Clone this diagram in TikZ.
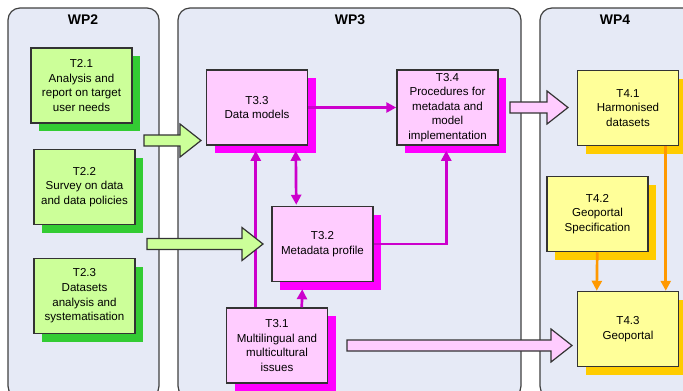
\documentclass[tikz,border=0pt]{standalone}
\usepackage{fontspec}
\setmainfont{Liberation Sans}
\usetikzlibrary{shadows,calc,arrows.meta}
\definecolor{panelbg}{RGB}{230,234,246}
\definecolor{panelline}{RGB}{64,64,64}
\definecolor{boxline}{RGB}{51,51,51}
\definecolor{gfill}{RGB}{204,255,153}
\definecolor{gshadow}{RGB}{51,204,51}
\definecolor{pfill}{RGB}{255,204,255}
\definecolor{pshadow}{RGB}{255,0,255}
\definecolor{mline}{RGB}{204,0,204}
\definecolor{yfill}{RGB}{255,255,153}
\definecolor{yshadow}{RGB}{255,204,0}
\definecolor{oline}{RGB}{255,153,0}
\newcommand\blockarrow[3]{%
  \draw[draw=boxline, line width=1.2bp, fill=#1]
    ($(#2)+(0,-5.5)$) -- ($(#3)+(-21,-5.5)$) -- ($(#3)+(-21,-16.5)$) -- (#3)
    -- ($(#3)+(-21,16.5)$) -- ($(#3)+(-21,5.5)$) -- ($(#2)+(0,5.5)$) -- cycle;}
\begin{document}
\begin{tikzpicture}[x=1bp,y=-1bp,
  panel/.style={draw=panelline, fill=panelbg, line width=1.2bp, rounded corners=12bp},
  ptitle/.style={font=\fontsize{14}{16}\selectfont\bfseries, inner sep=0pt},
  task/.style={draw=boxline, line width=1.5bp, minimum width=101bp, minimum height=75bp,
    inner sep=0pt, align=center, font=\fontsize{11.6}{14.7}\selectfont},
  greentask/.style={task, fill=gfill, general shadow={fill=gshadow, shadow xshift=8bp, shadow yshift=-8bp}},
  pinktask/.style={task, fill=pfill, general shadow={fill=pshadow, shadow xshift=8bp, shadow yshift=-8bp}},
  yellowtask/.style={task, fill=yfill, general shadow={fill=yshadow, shadow xshift=8bp, shadow yshift=-8bp}},
  magline/.style={draw=mline, line width=2.7bp},
  magarr/.style={magline, -{Triangle[length=10bp,width=10bp]}},
  magdarr/.style={magline, {Triangle[length=10bp,width=10bp]}-{Triangle[length=10bp,width=10bp]}},
  orarr/.style={draw=oline, line width=2.7bp, -{Triangle[length=10bp,width=10bp]}}
]
\useasboundingbox (0,0) rectangle (683,390);
\begin{scope}
  \clip (0,0) rectangle (683,390);
  \draw[panel] (8,8) rectangle (159,398);
  \draw[panel] (178,8) rectangle (521,398);
  \draw[panel] (540,8) rectangle (720,398);
\end{scope}
\node[ptitle] (wp2) at (83,20) {WP2};
\node[ptitle] (wp3) at (350,20) {WP3};
\node[ptitle] (wp4) at (615,20) {WP4};

% WP2
\node[greentask] (T21) at (81.5,85.5) {T2.1\\Analysis and\\report on target\\user needs};
\node[greentask] (T22) at (84.5,187) {T2.2\\Survey on data\\and data policies};
\node[greentask] (T23) at (84.5,296) {T2.3\\Datasets\\analysis and\\systematisation};

% WP3
\node[pinktask] (T33) at (257,107.5) {T3.3\\Data models};
\node[pinktask] (T34) at (447.5,107.5) {T3.4\\Procedures for\\metadata and\\model\\implementation};
\node[pinktask] (T32) at (322.5,244) {T3.2\\Metadata profile};
\node[pinktask] (T31) at (277,345.5) {T3.1\\Multilingual and\\multicultural\\issues};

% WP4
\node[yellowtask] (T41) at (628,108) {T4.1\\Harmonised\\datasets};
\node[yellowtask] (T42) at (597.5,214) {T4.2\\Geoportal\\Specification};
\node[yellowtask] (T43) at (628,329) {T4.3\\Geoportal};

% magenta connectors
\draw[magarr] (T33.east) -- (T34.west);
\draw[magarr] ($(T31.north west)+(30,0)$) -- ($(T33.south west)+(50,5)$);
\draw[magdarr] ($(T33.south west)+(90,5)$) -- ($(T32.north west)+(25,-1)$);
\draw[magarr] ($(T31.north west)+(76,0)$) -- ($(T32.south west)+(31,7)$);
\draw[magarr] (T32.east) -| ($(T34.south west)+(50,5)$);

% orange connectors
\draw[orarr] ($(T41.south west)+(89,0)$) -- ($(T43.north west)+(89,0)$);
\draw[orarr] ($(T42.south west)+(51,0)$) -- ($(T43.north west)+(20,0)$);

% block arrows
\coordinate (g1s) at (144,140.5);
\coordinate (g1e) at (201,140.5);
\coordinate (g2s) at (147,244);
\coordinate (g2e) at (263,244);
\coordinate (p1s) at (510,107.5);
\coordinate (p1e) at (568,107.5);
\coordinate (p2s) at (347,345.5);
\coordinate (p2e) at (572,345.5);
\blockarrow{gfill}{g1s}{g1e}
\blockarrow{gfill}{g2s}{g2e}
\blockarrow{pfill}{p1s}{p1e}
\blockarrow{pfill}{p2s}{p2e}
\end{tikzpicture}
\end{document}
